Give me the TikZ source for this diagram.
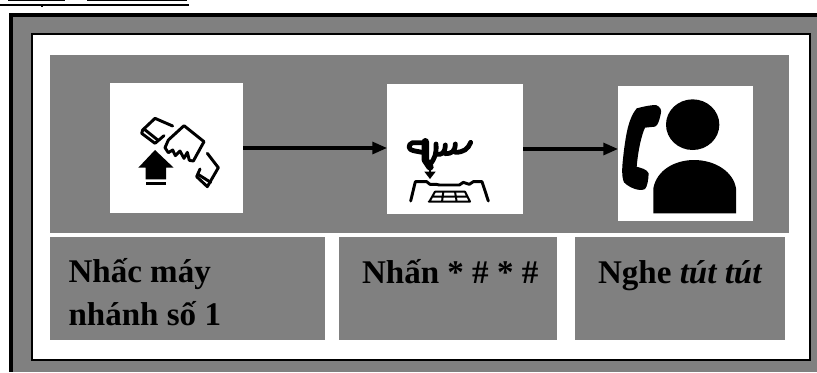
\documentclass[tikz,border=0pt]{standalone}
\usepackage{fontspec}
\setmainfont{Liberation Serif}
\usetikzlibrary{arrows.meta}
\definecolor{panelgray}{HTML}{808080}
\tikzset{
  box/.style={anchor=north west,inner sep=0pt,outer sep=0pt,minimum width=#1},
  panel/.style={box=#1,fill=panelgray},
  iconbox/.style={box=#1,fill=white},
  label/.style={anchor=base west,inner sep=0pt,outer sep=0pt,font=\fontsize{24.8pt}{28pt}\selectfont\bfseries,text=black},
  flow/.style={line width=2.3pt,-{Triangle[length=11pt,width=9pt]},shorten >=0pt,shorten <=0pt},
  ink/.style={line width=2.2pt,line cap=round,line join=round,black},
  iconscope/.style={x=0.25pt,y=-0.25pt}
}
\begin{document}
\begin{tikzpicture}[x=0.75pt,y=-0.75pt]
\useasboundingbox (0,0) rectangle (817,372);
% clipped title remnants
\fill[white] (0,0) rectangle (817,372);
\fill[black] (8,0) rectangle (65,1.2);
\fill[black] (87,0) rectangle (187,1.2);
\fill[black] (0,3.8) rectangle (189,5.6);
\fill[black] (41,5) rectangle (43,7);
% frame
\node[box=808*0.75pt,minimum height=359.5*0.75pt,fill=black] (frame) at (9,12.5) {};
\node[panel=804*0.75pt,minimum height=355*0.75pt] (ground) at (13,17) {};
\node[box=778*0.75pt,minimum height=326*0.75pt,fill=white,draw=black,line width=0.8pt] (sheet) at (32,34) {};
\node[panel=739*0.75pt,minimum height=178*0.75pt] (top) at (50,55) {};
% lower panels
\node[panel=275.5*0.75pt,minimum height=103*0.75pt] (p1) at (49.5,237) {};
\node[panel=218*0.75pt,minimum height=103*0.75pt] (p2) at (339,237) {};
\node[panel=210*0.75pt,minimum height=103*0.75pt] (p3) at (575,237) {};
\node[label] (t1a) at (68.5,282) {Nhấc máy};
\node[label] (t1b) at (68.5,325) {nhánh số 1};
\node[label] (t2) at (362,283) {Nhấn * \# * \#};
\node[label] (t3) at (598,283) {Nghe \textit{tút tút}};
% icon boxes
\node[iconbox=133*0.75pt,minimum height=130*0.75pt] (i1) at (110,83) {};
\node[iconbox=136*0.75pt,minimum height=130*0.75pt] (i2) at (387,84) {};
\node[iconbox=135*0.75pt,minimum height=135*0.75pt] (i3) at (618,86) {};
% connectors
\draw[flow] (i1.east |- 0,148) coordinate (a1s) -- (i2.west |- 0,148);
\draw[flow] (i2.east |- 0,149) coordinate (a2s) -- (i3.west |- 0,149);
% icon 1
\begin{scope}[shift={(100,75)},iconscope]
  \draw[ink] (218,153) -- (165,130) -- (128,165) -- (125,175) -- (165,205) -- (192,182);
  \draw[ink] (132,162) -- (172,194);
  \draw[ink] (252,152) -- (312,200) -- (280,258) -- (268,256) -- (262,232) -- (252,250) -- (240,228) -- (226,242) -- (218,225) -- (205,233) -- (195,218) -- (205,195) -- cycle;
  \draw[ink] (322,235) -- (355,278) -- (322,335) -- (290,305) -- (300,282);
  \draw[ink] (294,298) -- (332,322);
  \fill[black] (165,225) -- (221,278) -- (198,278) -- (198,313) -- (137,313) -- (137,278) -- (115,278) -- cycle;
  \fill[black] (137,322) rectangle (198,331);
\end{scope}
% icon 2
\begin{scope}[shift={(380,75)},iconscope]
  \begin{scope}[line width=3.6pt,line cap=round,line join=round]
    \draw (132,203) -- (98,203) .. controls (82,208) and (85,225) .. (100,227) -- (132,233);
    \draw[line width=5.5pt] (136,200) -- (136,255) -- (150,276);
    \draw (150,268) .. controls (165,250) and (170,235) .. (168,207);
    \draw (168,238) .. controls (185,240) and (195,235) .. (196,210);
    \draw (196,236) .. controls (215,236) and (225,230) .. (226,207);
    \draw (226,232) .. controls (250,232) and (265,222) .. (272,202);
  \end{scope}
  \draw[line width=2.2pt] (150,275) -- (150,295);
  \fill[black] (133,290) -- (167,290) -- (150,312) -- cycle;
  \draw[ink] (92,378) -- (106,320) -- (140,320) -- (150,328) -- (168,328) -- (178,330) -- (238,330) -- (250,322) -- (268,328) -- (280,320) -- (306,320) -- (325,378);
  \draw[line width=1.5pt,line cap=round] (165,350) -- (255,350) (158,365) -- (262,365) (146,380) -- (270,380)
    (165,350) -- (148,380) (255,350) -- (270,380) (190,350) -- (186,380) (225,350) -- (230,380);
\end{scope}
% icon 3
\begin{scope}[shift={(610,75)},iconscope]
  \fill[black] (248,149) ellipse [x radius=80,y radius=76];
  \fill[black] (130,415) -- (130,340) .. controls (140,285) and (195,255) .. (252,255) .. controls (315,255) and (370,290) .. (378,340) -- (378,415) -- cycle;
  \fill[black] (80,100) .. controls (100,95) and (120,90) .. (138,90) .. controls (150,95) and (157,105) .. (152,118) .. controls (148,135) and (145,150) .. (135,155) -- (105,158) .. controls (95,180) and (85,220) .. (80,275) .. controls (95,280) and (110,282) .. (116,295) .. controls (115,315) and (112,335) .. (105,342) .. controls (90,350) and (60,340) .. (42,322) .. controls (32,300) and (38,260) .. (42,225) .. controls (48,180) and (55,130) .. (80,100) -- cycle;
\end{scope}
\end{tikzpicture}
\end{document}
